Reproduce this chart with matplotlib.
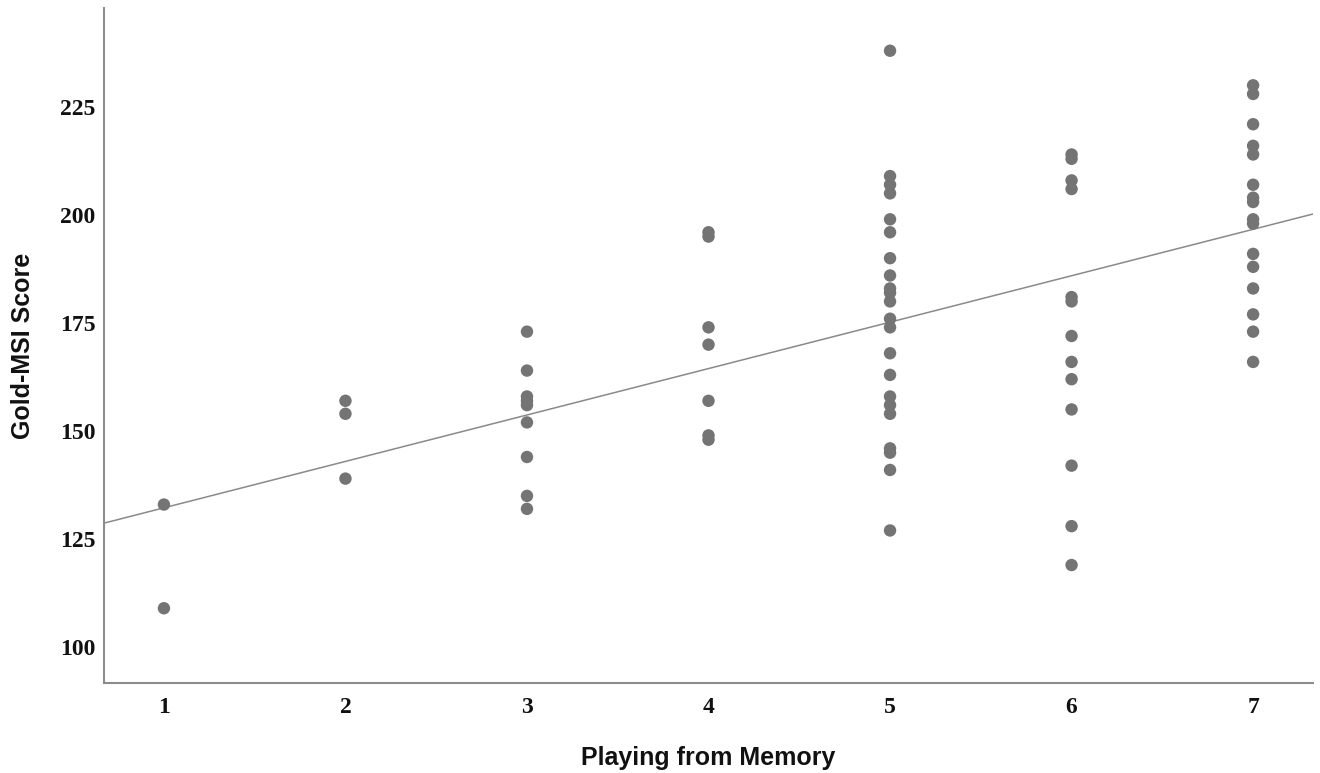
import numpy as np
import matplotlib
matplotlib.use("Agg")
import matplotlib.pyplot as plt

# Data (Playing from Memory rating vs Gold-MSI score)
x1 = [1, 1]
y1 = [133, 109]
x2 = [2, 2, 2]
y2 = [157, 154, 139]
x3 = [3] * 9
y3 = [173, 164, 158, 157, 156, 152, 144, 135, 132]
x4 = [4] * 7
y4 = [196, 195, 174, 170, 157, 149, 148]
x5 = [5] * 22
y5 = [238, 209, 207, 205, 199, 196, 190, 186, 183, 182, 180, 176, 174,
      168, 163, 158, 156, 154, 146, 145, 141, 127]
x6 = [6] * 13
y6 = [214, 213, 208, 206, 181, 180, 172, 166, 162, 155, 142, 128, 119]
x7 = [7] * 16
y7 = [230, 228, 221, 216, 214, 207, 204, 203, 199, 198, 191, 188, 183,
      177, 173, 166]

# Fit line as shown in the reference
fit_intercept = 121.5
fit_slope = 10.74

x_ticks = [1, 2, 3, 4, 5, 6, 7]
y_ticks = [100, 125, 150, 175, 200, 225]

xs = np.array(x1 + x2 + x3 + x4 + x5 + x6 + x7, dtype=float)
ys = np.array(y1 + y2 + y3 + y4 + y5 + y6 + y7, dtype=float)

fig = plt.figure(figsize=(13.2, 7.73), dpi=100)
ax = fig.add_axes([0.0788, 0.1164, 0.9159, 0.8733])

ax.scatter(xs, ys, s=80, color="#747474", edgecolors="none", zorder=3)

xlim = (0.67, 7.33)
ylim = (91.7, 247.9)
lx = np.array(xlim)
ax.plot(lx, fit_intercept + fit_slope * lx, color="#8a8a8a", lw=1.1, zorder=2)

ax.set_xlim(*xlim)
ax.set_ylim(*ylim)
ax.set_xticks(x_ticks)
ax.set_yticks(y_ticks)

for s in ["top", "right"]:
    ax.spines[s].set_visible(False)
for s in ["left", "bottom"]:
    ax.spines[s].set_color("#8c8c8c")
    ax.spines[s].set_linewidth(1.5)

ax.tick_params(axis="x", length=0, pad=10)
ax.tick_params(axis="y", length=0, pad=6)
for lab in ax.get_xticklabels() + ax.get_yticklabels():
    lab.set_fontfamily("Liberation Serif")
    lab.set_fontweight("bold")
    lab.set_fontsize(17)
    lab.set_color("#111111")

ax.set_xlabel("Playing from Memory", fontfamily="Liberation Sans",
              fontweight="bold", fontsize=18, labelpad=20, color="#111111")
ax.set_ylabel("Gold-MSI Score", fontfamily="Liberation Sans",
              fontweight="bold", fontsize=18, labelpad=18, color="#111111")

fig.savefig("out.png", dpi=100)
